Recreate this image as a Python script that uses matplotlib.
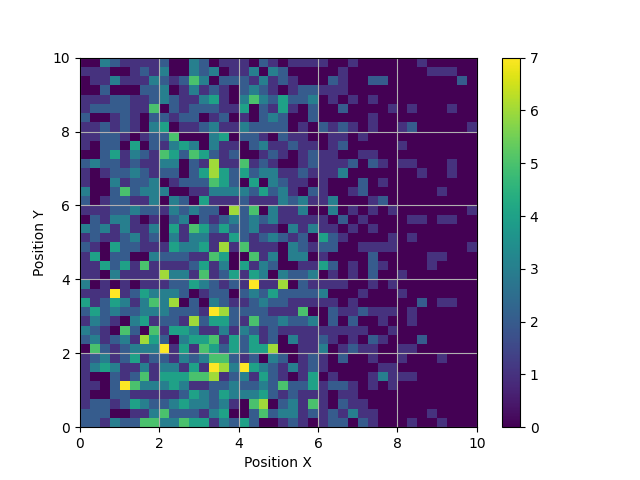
import numpy as np
import matplotlib
matplotlib.use("Agg")
import matplotlib.pyplot as plt

# counts per cell, top row of the picture first (40 x 40 cells)
rows_top_left = [
    "00321111200320111021",
    "11100121300323011303",
    "01131113212530222131",
    "00200022301312102321",
    "11122112321134103532",
    "12222115021222114021",
    "20012102212201201023",
    "11212103401123113222",
    "11221012250003402210",
    "10220402134303110231",
    "00241321542542120012",
    "23221211330216115121",
    "10122321220246424233",
    "10031223012225420403",
    "30025233300113333242",
    "20122113032041112111",
    "11122322132322062503",
    "02133101023021232323",
    "32313113041542422311",
    "12112312031331142123",
    "21042211143341615111",
    "14022003222115400513",
    "11424151111241304132",
    "11031111633151241430",
    "30101011122432121711",
    "11171243332012202324",
    "41243135360203211232",
    "24232233322217622221",
    "13210341221624421522",
    "32105205144311313212",
    "23123164203445142412",
    "05212333714154242446",
    "12312412213235521203",
    "13431131331417637432",
    "10021251444556123142",
    "11027533343112232232",
    "10022111112432433342",
    "12212432234332310560",
    "22200113522213400252",
    "22132255335441324200",
]
rows_top_right = [
    "01111001000000100000",
    "20000010000000011100",
    "21000210022000000020",
    "01221110000000000000",
    "42230101010000000000",
    "41020020000101000100",
    "20020000010000000000",
    "20102121010012000001",
    "21100110100000000000",
    "12110120000010000000",
    "10121100110000000000",
    "00121112021011000100",
    "11211130000000100100",
    "21101000201000000000",
    "31021001200000001000",
    "32311300012000000000",
    "11300301010100000001",
    "11111020100001101100",
    "03131101010000000000",
    "21204210000101000000",
    "03212200111100000001",
    "03301000020000011000",
    "00114201021000010000",
    "32230101020010000000",
    "60211110010100000000",
    "22223000100010000000",
    "21111101000000201100",
    "11500211211101000000",
    "32230202001001000000",
    "11111111100100000000",
    "03112101021000200000",
    "00113012110011000000",
    "20121020010010001000",
    "13121000001100000000",
    "10140100013111000000",
    "52241221010100000000",
    "12111011000000000000",
    "23151021100000000000",
    "33121213110000010000",
    "12101220210001001000",
]

x_edges = np.linspace(0, 10, 41)
y_edges = np.linspace(0, 10, 41)

counts = np.array([[int(c) for c in a + b] for a, b in zip(rows_top_left, rows_top_right)])
counts = counts[::-1]  # pcolormesh starts from the bottom

fig, ax = plt.subplots(figsize=(6.4, 4.8), dpi=100)
mesh = ax.pcolormesh(x_edges, y_edges, counts, cmap="viridis", vmin=0, vmax=7)
fig.colorbar(mesh, ax=ax)
ax.set_xlabel("Position X")
ax.set_ylabel("Position Y")
ax.grid(True)
fig.savefig("out.png", dpi=100)
